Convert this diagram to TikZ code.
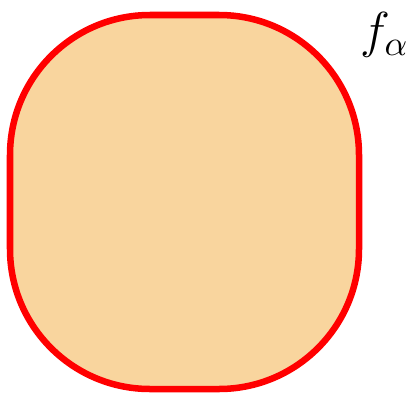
\documentclass[tikz,border=0pt]{standalone}
\usetikzlibrary{positioning}
\definecolor{setF}{HTML}{F9D59E}
\definecolor{setD}{HTML}{FF0000}
\tikzset{
  setshape/.style={draw=setD, fill=setF, line width=1.85pt, rounded corners=1.4cm},
  setlab/.style={inner sep=0pt, font=\Large},
}
\begin{document}
\begin{tikzpicture}
\useasboundingbox (0,0) rectangle (4.13,3.98);
\draw[setshape] (0.10,0.09) rectangle (3.59,3.83);
\node[setlab] (falpha) at (3.845,3.63) {$f_\alpha$};
\end{tikzpicture}
\end{document}
